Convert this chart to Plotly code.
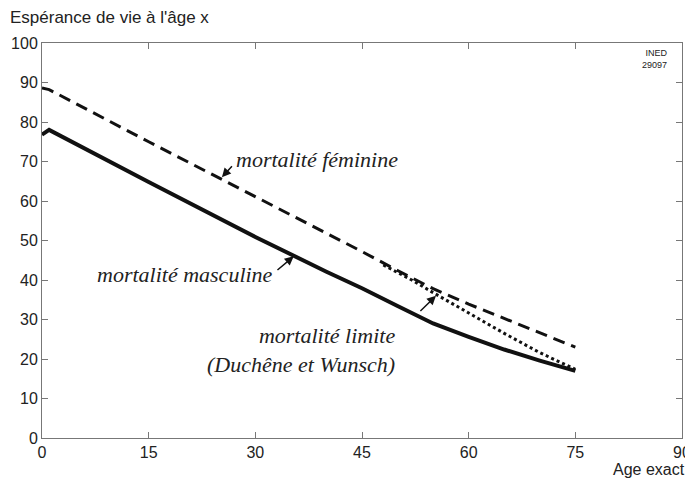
import plotly.graph_objects as go

# Data
ages_fem = [0, 1, 15, 30, 45, 50, 55, 60, 65, 70, 75]
e_fem = [88.6, 88.2, 75.0, 61.2, 47.2, 42.4, 37.8, 33.9, 30.2, 26.5, 23.0]

ages_masc = [0, 1, 15, 30, 40, 45, 50, 55, 60, 65, 70, 75]
e_masc = [76.8, 78.0, 64.8, 50.9, 42.1, 37.9, 33.4, 29.0, 25.6, 22.4, 19.6, 17.0]

ages_lim = [48, 52, 55, 60, 65, 70, 75]
e_lim = [43.8, 40.0, 36.8, 31.6, 26.5, 21.6, 17.4]

x_ticks = [0, 15, 30, 45, 60, 75, 90]
y_ticks = [0, 10, 20, 30, 40, 50, 60, 70, 80, 90, 100]

label_fem = "mortalité féminine"
label_masc = "mortalité masculine"
label_lim = "mortalité limite<br>(Duchêne et Wunsch)"
y_title = "Espérance de vie à l'âge x"
x_title = "Age exact"
source = "INED<br>29097"

# the page body has an 8px margin: shift the figure accordingly
OFF = 8
W, H = 693 - OFF, 478 - OFF
L, R, T, B = 42 - OFF, 19 - OFF, 43 - OFF, 48 - OFF
pw, ph = W - L - R, H - T - B


def px_x(sx):  # screen x -> paper
    return (sx - OFF - L) / pw


def px_y(sy):  # screen y -> paper
    return (H - (sy - OFF) - B) / ph


fig = go.Figure()
fig.add_trace(go.Scatter(x=ages_fem, y=e_fem, mode="lines",
                         line=dict(color="#111", width=3, dash="12px,7px"), hoverinfo="skip"))
fig.add_trace(go.Scatter(x=ages_lim, y=e_lim, mode="lines",
                         line=dict(color="#111", width=3, dash="dot"), hoverinfo="skip"))
fig.add_trace(go.Scatter(x=ages_masc, y=e_masc, mode="lines",
                         line=dict(color="#111", width=4), hoverinfo="skip"))

serif = dict(family="Liberation Serif", size=22, color="#222")
sans = dict(family="Liberation Sans", size=17, color="#222")
tickf = dict(family="Liberation Sans", size=16, color="#222")
ann = []
ann.append(dict(x=27.0, y=70.4, xref="x", yref="y", text=f"<i>{label_fem}</i>", showarrow=False,
                xanchor="left", yanchor="middle", font=serif))
ann.append(dict(x=32.8, y=41.5, xref="x", yref="y", text=f"<i>{label_masc}</i>", showarrow=False,
                xanchor="right", yanchor="middle", font=serif))
ann.append(dict(x=49.9, y=22.3, xref="x", yref="y", text=f"<i>{label_lim}</i>", showarrow=False,
                xanchor="right", yanchor="middle", align="right", font=serif))
arrow = dict(showarrow=True, arrowhead=2, arrowsize=1.2, arrowwidth=1.5, arrowcolor="#111",
             text="", xref="x", yref="y", axref="x", ayref="y")
ann.append(dict(x=25.3, y=66.0, ax=26.9, ay=69.2, **arrow))
ann.append(dict(x=35.4, y=46.0, ax=32.9, ay=42.2, **arrow))
ann.append(dict(x=55.4, y=36.0, ax=53.0, ay=31.8, **arrow))
ann.append(dict(x=px_x(670), y=px_y(46), xref="paper", yref="paper", text=source, showarrow=False,
                xanchor="right", yanchor="top", align="right",
                font=dict(family="Liberation Sans", size=9, color="#222")))
ann.append(dict(x=px_x(8), y=px_y(17), xref="paper", yref="paper", text=y_title,
                showarrow=False, xanchor="left", yanchor="middle", font=sans))
ann.append(dict(x=px_x(687), y=px_y(469), xref="paper", yref="paper", text=x_title,
                showarrow=False, xanchor="right", yanchor="middle",
                font=dict(family="Liberation Sans", size=16, color="#222")))
fig.update_layout(annotations=ann)

axis_common = dict(showgrid=False, zeroline=False, showline=True, linecolor="#777", linewidth=1,
                   mirror="ticks", ticks="inside", ticklen=6, tickcolor="#777",
                   tickfont=tickf, automargin=False)
fig.update_xaxes(range=[0, 90], tickvals=x_ticks, ticktext=[str(v) for v in x_ticks], **axis_common)
fig.update_yaxes(range=[0, 100], tickvals=y_ticks, ticktext=[str(v) for v in y_ticks], **axis_common)

fig.update_layout(width=W, height=H, margin=dict(l=L, r=R, t=T, b=B),
                  paper_bgcolor="white", plot_bgcolor="white", showlegend=False)
fig.write_html("out.html")
